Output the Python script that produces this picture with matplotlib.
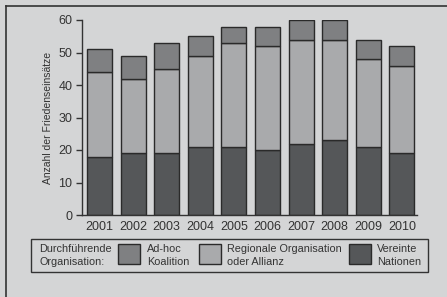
import matplotlib
matplotlib.use("Agg")
import matplotlib.pyplot as plt
from matplotlib.patches import Rectangle
import numpy as np

plt.rcParams['font.family'] = ['Liberation Sans', 'DejaVu Sans']

years = ['2001', '2002', '2003', '2004', '2005', '2006', '2007', '2008', '2009', '2010']
un = [18, 19, 19, 21, 21, 20, 22, 23, 21, 19]
regional = [26, 23, 26, 28, 32, 32, 32, 31, 27, 27]
adhoc = [7, 7, 8, 6, 5, 6, 6, 6, 6, 6]
yticks = [0, 10, 20, 30, 40, 50, 60]

bg = '#d4d5d6'
c_un = '#555759'
c_reg = '#a9aaac'
c_adhoc = '#7f8082'
edge = '#2a2a2a'
txt = '#333333'

W, H = 447, 297
fig = plt.figure(figsize=(W / 100, H / 100), dpi=100)
fig.patch.set_facecolor(bg)

# outer frame lines (left and top)
fig.add_artist(plt.Line2D([6 / W, 6 / W], [0, 1 - 6 / H], color='#333333', lw=1.2, transform=fig.transFigure))
fig.add_artist(plt.Line2D([6 / W, 1], [1 - 6 / H, 1 - 6 / H], color='#333333', lw=1.2, transform=fig.transFigure))

ax = fig.add_axes([82 / W, 1 - 215 / H, (417 - 82) / W, 195 / H])
ax.set_facecolor(bg)
x = np.arange(len(years))
bw = 0.74
un_a = np.array(un)
reg_a = np.array(regional)
ad_a = np.array(adhoc)
ax.bar(x, un_a, bw, color=c_un, edgecolor=edge, linewidth=1)
ax.bar(x, reg_a, bw, bottom=un_a, color=c_reg, edgecolor=edge, linewidth=1)
ax.bar(x, ad_a, bw, bottom=un_a + reg_a, color=c_adhoc, edgecolor=edge, linewidth=1)

ax.set_xlim(-0.52, 9.45)
ax.set_ylim(0, 60)
ax.set_yticks(yticks)
ax.set_xticks(x)
ax.set_xticklabels(years)
for s in ['top', 'right']:
    ax.spines[s].set_visible(False)
for s in ['left', 'bottom']:
    ax.spines[s].set_color('#333333')
    ax.spines[s].set_linewidth(1)
ax.tick_params(axis='y', length=4, width=1, color='#333333', labelsize=9, labelcolor=txt, pad=3)
ax.tick_params(axis='x', length=0, labelsize=9, labelcolor=txt, pad=4)
ax.set_ylabel('Anzahl der Friedenseinsätze', fontsize=7.5, color=txt, labelpad=4)

# legend box
lx0, lx1 = 31, 428
ly0, ly1 = 239, 272
fig.add_artist(Rectangle((lx0 / W, 1 - ly1 / H), (lx1 - lx0) / W, (ly1 - ly0) / H,
                         transform=fig.transFigure, facecolor='none', edgecolor='#333333', lw=1))
ymid = 1 - 255.5 / H
fs = 7.8
fig.text(39 / W, ymid, 'Durchführende\nOrganisation:', fontsize=fs, color=txt, va='center', ha='left', linespacing=1.3)
items = [(118, 147, c_adhoc, 'Ad-hoc\nKoalition'),
         (199, 227, c_reg, 'Regionale Organisation\noder Allianz'),
         (349, 377, c_un, 'Vereinte\nNationen')]
for px, tx, col, lab in items:
    fig.add_artist(Rectangle((px / W, 1 - 264 / H), 22 / W, 20 / H, transform=fig.transFigure,
                             facecolor=col, edgecolor=edge, lw=1))
    fig.text(tx / W, ymid, lab, fontsize=fs, color=txt, va='center', ha='left', linespacing=1.3)

fig.savefig('out.png', dpi=100, facecolor=bg)
